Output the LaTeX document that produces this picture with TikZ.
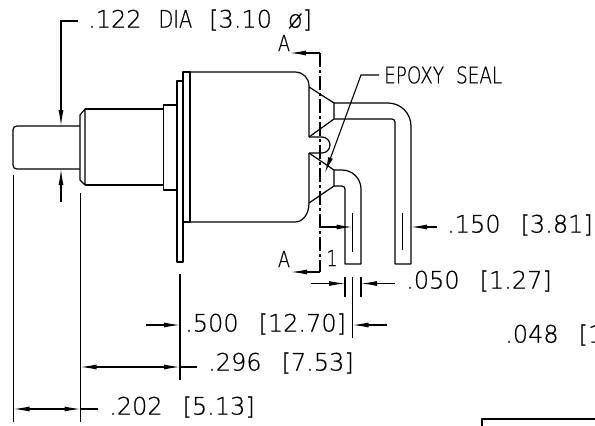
\documentclass[tikz,border=0pt]{standalone}
\usepackage{fontspec}
\setmainfont[FakeBold=0.5]{DejaVu Sans ExtraLight}
\newfontfamily\cadnarrow[FakeStretch=0.8,FakeBold=0.5]{DejaVu Sans ExtraLight}
\usetikzlibrary{arrows.meta}

\tikzset{
  part/.style={line width=1.2pt, line join=round},
  dimline/.style={line width=1.1pt},
  dimarrow/.style={line width=1.1pt, -{Latex[length=16pt,width=5pt]}},
  dimboth/.style={line width=1.1pt, {Latex[length=16pt,width=5pt]}-{Latex[length=16pt,width=5pt]}},
  dimtext/.style={anchor=west, inner sep=0pt, font=\fontsize{24}{25}\selectfont},
  smalltext/.style={inner sep=0pt, font=\cadnarrow\fontsize{22}{23}\selectfont},
}
\newcommand{\wgap}{\hspace{20pt}}

\begin{document}
\begin{tikzpicture}[x=1pt, y=-1pt]
  \useasboundingbox (0,0) rectangle (595,426);

  % Texts
  \node[dimtext] (dia) at (88,20) {.122\hspace{17pt}{\cadnarrow DIA}\hspace{17pt}[3.10\hspace{16pt}ø]};
  \node[dimtext, font=\cadnarrow\fontsize{23}{24}\selectfont] (seal) at (384,75) {EPOXY\hspace{12pt}SEAL};
  \node[dimtext] (d150) at (447,225) {.150\wgap [3.81]};
  \node[dimtext] (d050) at (406,281) {.050\wgap [1.27]};
  \node[dimtext] (d500) at (185,324) {.500\wgap [12.70]};
  \node[dimtext] (d048) at (505,335) {.048\wgap [1};
  \node[dimtext] (d296) at (208,363) {.296\wgap [7.53]};
  \node[dimtext] (d202) at (109,407) {.202\wgap [5.13]};
  \node[smalltext] (secA) at (284,43) {A};
  \node[smalltext] (secB) at (284,259) {A};
  \node[smalltext] (note) at (332,258) {1};

  % Plunger and bushing
  \draw[part] (80,126) -- (17,126) .. controls (14.5,126) and (13,127.5) .. (13,130)
    -- (13,165) .. controls (13,167.5) and (14.5,169) .. (17,169) -- (80,169);
  \draw[part] (85,109) -- (80,115) -- (80,180) -- (85,185) -- cycle;
  \draw[part] (85,109) -- (163.5,109) (85,185) -- (163.5,185);
  \draw[part] (163.5,105) rectangle (177,190);
  \draw[part] (177,81) rectangle (183,262);
  \draw[part] (183,72) rectangle (190,222);

  % Case
  \draw[part] (190,72) -- (295,72) .. controls (303,72) and (309,78) .. (309,86) -- (309,137);
  \draw[part] (309,153) -- (309,203) .. controls (309,214) and (303,222) .. (295,222) -- (190,222);
  \draw[part] (309,137) -- (322,137) arc[start angle=-90, end angle=90, radius=8] -- (309,153);

  % Seal cones
  \draw[part] (309,87) -- (334,103) -- (334,119) -- (309,137);
  \draw[part] (309,153) -- (334,170) -- (334,186) -- (309,203);

  % Terminals
  \draw[part] (334,103) -- (388,103) arc[start angle=-90, end angle=0, radius=23] -- (411,264)
    -- (395,264) -- (395,122) arc[start angle=0, end angle=-90, radius=3] -- (334,119);
  \draw[part] (334,170) -- (342,170) arc[start angle=-90, end angle=0, radius=19] -- (361,264)
    -- (345,264) -- (345,189) arc[start angle=0, end angle=-90, radius=3] -- (334,186);

  % Section line
  \coordinate (secTop) at (320,53);
  \coordinate (secBot) at (320,272);
  \draw[dimline, dash pattern=on 14pt off 3pt on 3pt off 3pt] (secTop) -- (secBot);
  \draw[dimarrow] (secTop) -- (290,53);
  \draw[dimarrow] (secBot) -- (291,272);

  % .122 dia
  \coordinate (diaStart) at (78,21);
  \coordinate (diaCorner) at (61,21);
  \draw[dimarrow] (diaStart) -- (diaCorner) -- (61,126);
  \draw[dimarrow] (61,202) -- (61,169);

  % Epoxy seal leader
  \draw[dimarrow] (379,75) -- (361,75) -- (325,173);

  % Centre lines and terminal dims
  \draw[dimline] (352.5,213) -- (352.5,252);
  \draw[dimline] (402.5,213) -- (402.5,250);
  \draw[dimarrow] (320,227) -- (352.5,227);
  \draw[dimarrow] (437,227) -- (411,227);

  % Extension lines
  \draw[dimline] (345,277) -- (345,297);
  \draw[dimline] (361,277) -- (361,297);
  \draw[dimline] (352.5,277) -- (352.5,338);
  \draw[dimline] (180,274) -- (180,380);
  \draw[dimline] (80.5,193) -- (80.5,422);
  \draw[dimline] (13.5,175) -- (13.5,422);

  % Bottom dims
  \draw[dimarrow] (311,283.5) -- (345,283.5);
  \draw[dimarrow] (395,283.5) -- (361,283.5);
  \draw[dimarrow] (146,325) -- (180,325);
  \draw[dimarrow] (387,325) -- (352.5,325);
  \draw[dimboth] (80.5,367) -- (180,367);
  \draw[dimline] (180,367) -- (197,367);
  \draw[dimboth] (13.5,409) -- (80.5,409);
  \draw[dimline] (80.5,409) -- (98,409);

  % Title block corner
  \draw[part] (482,426) -- (482,419) -- (595,419);
\end{tikzpicture}
\end{document}
